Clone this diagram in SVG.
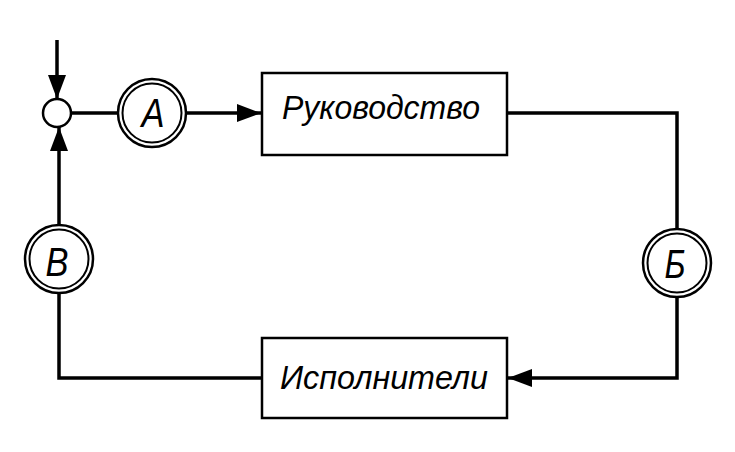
<svg xmlns="http://www.w3.org/2000/svg" width="735" height="452" viewBox="0 0 735 452">
<style>
.ln{fill:none;stroke:#000;stroke-width:3.5;stroke-linejoin:miter}
.box{fill:#fff;stroke:#000;stroke-width:2.5}
.ring{fill:#fff;stroke:#000;stroke-width:2.5}
.ring2{fill:none;stroke:#000;stroke-width:2}
.lbl{font-family:"Liberation Sans",Arial,sans-serif;font-style:italic;font-size:34px;fill:#000}
.let{font-family:"Liberation Sans",Arial,sans-serif;font-style:italic;font-size:40px;fill:#000;text-anchor:middle}
</style>
<defs>
<marker id="arr" markerUnits="userSpaceOnUse" markerWidth="26" markerHeight="22" refX="24" refY="9" orient="auto">
<path d="M0,0 L24,9 L0,18 Z" fill="#000"/>
</marker>
</defs>
<rect width="735" height="452" fill="#fff"/>
<g id="connectors">
<path class="ln" d="M57,40 L57,99" marker-end="url(#arr)"/>
<path class="ln" d="M71,113 L118,113"/>
<path class="ln" d="M186,113 L261,113" marker-end="url(#arr)"/>
<path class="ln" d="M507,113 L677,113 L677,229"/>
<path class="ln" d="M677,297 L677,378 L508,378" marker-end="url(#arr)"/>
<path class="ln" d="M262,378 L59,378 L59,293"/>
<path class="ln" d="M59,225 L59,127" marker-end="url(#arr)"/>
</g>
<g id="sum">
<circle cx="57" cy="113" r="14" class="ring"/>
</g>
<g id="nodeA">
<circle cx="152" cy="113" r="34" class="ring"/>
<circle cx="152" cy="113" r="29.5" class="ring2"/>
<text x="153" y="127" class="let" textLength="23" lengthAdjust="spacingAndGlyphs">A</text>
</g>
<g id="rukovodstvo">
<rect x="262" y="73" width="245" height="82" class="box"/>
<text x="282" y="119" class="lbl" textLength="198" lengthAdjust="spacingAndGlyphs">Руководство</text>
</g>
<g id="nodeB6">
<circle cx="677" cy="263" r="34" class="ring"/>
<circle cx="677" cy="263" r="29.5" class="ring2"/>
<text x="675" y="278" class="let" textLength="21" lengthAdjust="spacingAndGlyphs">Б</text>
</g>
<g id="ispolniteli">
<rect x="262" y="338" width="245" height="80" class="box"/>
<text x="280" y="389" class="lbl" textLength="208" lengthAdjust="spacingAndGlyphs">Исполнители</text>
</g>
<g id="nodeV">
<circle cx="59" cy="259" r="34" class="ring"/>
<circle cx="59" cy="259" r="29.5" class="ring2"/>
<text x="57" y="276" class="let" textLength="23" lengthAdjust="spacingAndGlyphs">В</text>
</g>
</svg>
